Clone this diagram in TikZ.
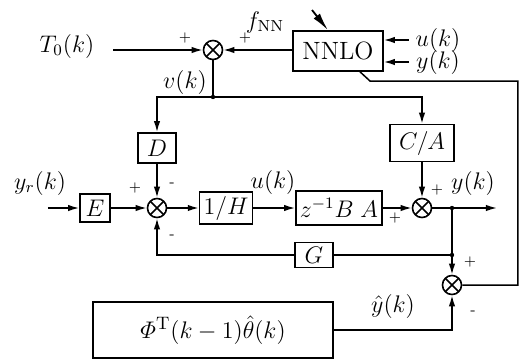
\documentclass[tikz,border=0pt]{standalone}
\usepackage{amsmath,amssymb}
\usetikzlibrary{arrows.meta,positioning,calc}
\tikzset{
  blk/.style={draw, line width=0.8pt, align=center, inner sep=2pt},
  sumx/.style={draw, circle, line width=0.8pt, minimum size=9.5pt, inner sep=0pt,
    path picture={\draw[line width=0.8pt]
      (path picture bounding box.north west) -- (path picture bounding box.south east)
      (path picture bounding box.north east) -- (path picture bounding box.south west);}},
  ar/.style={-{Latex[length=5.5pt,width=3.2pt]}, line width=0.75pt},
  ln/.style={line width=0.75pt},
  sgn/.style={font=\scriptsize, inner sep=0pt},
  jdot/.style={circle, fill, inner sep=0pt, minimum size=2.2pt},
}

\begin{document}
\begin{tikzpicture}[x=0.5pt, y=-0.5pt, font=\fontsize{11.5}{13}\selectfont]
\useasboundingbox (0,0) rectangle (527,360);

% blocks
\node[blk, minimum width=45pt, minimum height=20pt, font=\fontsize{12.5}{14}\selectfont] (NNLO) at (338,51) {NNLO};
\node[blk, minimum width=19pt, minimum height=15pt] (D) at (157,148) {$D$};
\node[blk, minimum width=32pt, minimum height=18.5pt] (CA) at (422,143) {$C/A$};
\node[blk, minimum width=15pt, minimum height=14pt] (E) at (95,208) {$E$};
\node[blk, minimum width=26pt, minimum height=14pt] (invH) at (226,208) {$1/H$};
\node[blk, minimum width=36pt, minimum height=17pt] (zBA) at (339,208) {$z^{-1}B\;A$};
\node[blk, minimum width=19pt, minimum height=12.5pt] (G) at (314,255) {$G$};
\node[blk, minimum width=120pt, minimum height=28pt, font=\fontsize{13}{15}\selectfont] (Phi) at (213,330) {$\varPhi^{\mathrm{T}}(k-1)\hat{\theta}(k)$};

% summing junctions
\node[sumx] (sum1) at (213,50) {};
\node[sumx] (sum2) at (157,208) {};
\node[sumx] (sum3) at (422,208) {};
\node[sumx] (sum4) at (452,285) {};

% free ends
\coordinate (vj) at (213,97);
\coordinate (yin) at (48,208);
\coordinate (yout) at (497,208);
\coordinate (yj) at (452,208);
\coordinate (gj) at (452,255);
\coordinate (fbr) at (518,81);
\coordinate (fbl) at (370,81);
\coordinate (adj) at (312,10);

% labels
\node (T0) at (67,46) {$T_0(k)$};
\node (fNN) at (265,22) {$f_{\mathrm{NN}}$};
\node (uin) at (438,40) {$u(k)$};
\node (yfb) at (438,62) {$y(k)$};
\node (vk) at (185,82) {$v(k)$};
\node (yr) at (40,183) {$y_r(k)$};
\node (uk) at (273,182) {$u(k)$};
\node (yk) at (473,183) {$y(k)$};
\node (yhat) at (393,306) {$\hat{y}(k)$};

% signs
\node[sgn] at (185,38) {+};
\node[sgn] at (245,38) {+};
\node[sgn] at (135,188) {+};
\node[sgn] at (172,185) {-};
\node[sgn] at (172,237) {-};
\node[sgn] at (395,218) {+};
\node[sgn] at (437,190) {+};
\node[sgn] at (470,262) {+};
\node[sgn] at (473,313) {-};

% top loop
\draw[ar, shorten <=6pt] (T0.east |- sum1) -- (sum1);
\draw[ar] (NNLO.west |- sum1) -- (sum1);
\draw[ar] (uin.west) -- (NNLO.east |- uin);
\draw[ar] (yfb.west) -- (NNLO.east |- yfb);
\draw[-{Latex[length=9pt,width=4pt]}, line width=0.9pt] (adj) -- ([xshift=-5pt]NNLO.north);
\draw[ln] (sum1) -- (vj);
\draw[ar] (vj) -| (D);
\draw[ar] (vj) -| (CA);
\node[jdot] at (vj) {};

% main path
\draw[ar] (yin) -- (E);
\draw[ar] (E) -- (sum2);
\draw[ar] (D) -- (sum2);
\draw[ar] (sum2) -- (invH);
\draw[ar] (invH) -- (zBA);
\draw[ar] (zBA) -- (sum3);
\draw[ar] (CA) -- (sum3);
\draw[ar] (sum3) -- (yout);
\node[jdot] at (yj) {};

% feedback and estimator
\draw[ln] (yj) -- (gj);
\draw[ar] (gj) -- (sum4);
\draw[ln] (gj) -- (G);
\node[jdot] at (gj) {};
\draw[ar] (G) -| (sum2);
\draw[ar] (Phi) -| (sum4);
\draw[ln] (sum4) -| (fbr) -- (fbl) -- ([xshift=11pt]NNLO.south);
\end{tikzpicture}
\end{document}
